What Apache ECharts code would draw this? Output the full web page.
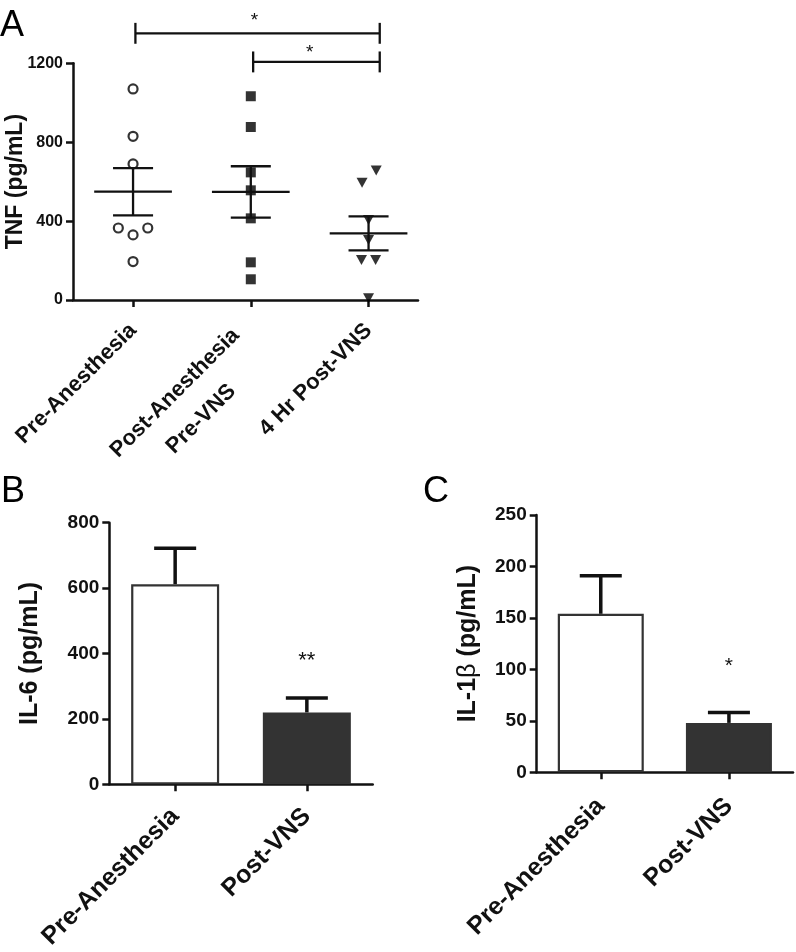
<!DOCTYPE html>
<html><head><meta charset="utf-8">
<script src="https://cdn.jsdelivr.net/npm/echarts@6/dist/echarts.min.js"></script>
<style>html,body{margin:0;padding:0;background:#fff;} #c{width:796px;height:952px;}</style>
</head><body><div id="c"></div>
<script>
// ---------- Panel A : TNF ----------
const groupsA = ['Pre-Anesthesia', 'Post-Anesthesia\nPre-VNS', '4 Hr Post-VNS'];
const tnfPreAnesthesia = [1070, 830, 690, 365, 330, 365, 195];
const tnfPostAnesthesiaPreVNS = [1033, 877, 647, 556, 414, 191, 105];
const tnf4HrPostVNS = [656, 595, 406, 304, 203, 203, 9];
const tnfMean = [549, 548, 338];
const tnfSEM = [120, 130, 86];
const tnfTicks = [0, 400, 800, 1200];
const sigA = [{ from: 1, to: 3, label: '*' }, { from: 2, to: 3, label: '*' }];

// ---------- Panel B : IL-6 ----------
const groupsBC = ['Pre-Anesthesia', 'Post-VNS'];
const il6Mean = [612, 220];
const il6SEM = [110, 44];
const il6Ticks = [0, 200, 400, 600, 800];
const sigB = ['', '**'];

// ---------- Panel C : IL-1beta ----------
const il1bMean = [154, 48];
const il1bSEM = [37, 10];
const il1bTicks = [0, 50, 100, 150, 200, 250];
const sigC = ['', '*'];

// ---------- layout (not data) ----------
const FONT = "'Liberation Sans', Arial, Helvetica, sans-serif";
const jitterA = [[0, 0, 0, -0.125, 0, 0.125, 0], [0, 0, 0, 0, 0, 0, 0], [0.065, -0.055, 0, 0, -0.06, 0.06, 0]];
const bracketLayout = [
  { y: 1352, half: 53, starY: 1418, dx1: 0.02, dx2: 0.095, starX: 2.03 },
  { y: 1207, half: 53, starY: 1254, dx1: 0.02, dx2: 0.095, starX: 2.5 }
];
const sigLayoutB = [0, 378];
const sigLayoutC = [0, 103];

const AX = '#111';

function pts(vals, g) {
  return vals.map((v, i) => [g + 1 + jitterA[g][i], v]);
}

function meanSemItem(params, api) {
  const x = api.value(0), m = api.value(1), s = api.value(2);
  const unit = api.size([1, 0])[0];
  const c = api.coord([x, m]), hi = api.coord([x, m + s]), lo = api.coord([x, m - s]);
  const mw = unit * 0.33, cw = unit * 0.17;
  const st = { stroke: AX, lineWidth: 2.3 };
  return { type: 'group', children: [
    { type: 'line', shape: { x1: c[0] - mw, y1: c[1], x2: c[0] + mw, y2: c[1] }, style: st },
    { type: 'line', shape: { x1: c[0], y1: hi[1], x2: c[0], y2: lo[1] }, style: st },
    { type: 'line', shape: { x1: c[0] - cw, y1: hi[1], x2: c[0] + cw, y2: hi[1] }, style: st },
    { type: 'line', shape: { x1: c[0] - cw, y1: lo[1], x2: c[0] + cw, y2: lo[1] }, style: st }
  ]};
}

function bracketItem(params, api) {
  const i = params.dataIndex;
  const L = bracketLayout[i];
  const from = api.value(0), to = api.value(1);
  const a = api.coord([from + L.dx1, L.y]), b = api.coord([to + L.dx2, L.y]);
  const t = api.coord([from, L.y + L.half])[1], bt = api.coord([from, L.y - L.half])[1];
  const s = api.coord([L.starX, L.starY]);
  const st = { stroke: AX, lineWidth: 2.3 };
  return { type: 'group', children: [
    { type: 'line', shape: { x1: a[0], y1: a[1], x2: b[0], y2: b[1] }, style: st },
    { type: 'line', shape: { x1: a[0], y1: t, x2: a[0], y2: bt }, style: st },
    { type: 'line', shape: { x1: b[0], y1: t, x2: b[0], y2: bt }, style: st },
    { type: 'text', style: { text: sigA[i].label, x: s[0], y: s[1], align: 'center', verticalAlign: 'middle', font: '19px ' + FONT, fill: AX } }
  ]};
}

function errItem(capHalf, sigs, sigY, sigFont) {
  return function (params, api) {
    const i = api.value(0), m = api.value(1), e = api.value(2);
    const base = api.coord([i, m]), top = api.coord([i, m + e]);
    const st = { stroke: AX, lineWidth: 3.5 };
    const ch = [
      { type: 'line', shape: { x1: base[0], y1: base[1], x2: top[0], y2: top[1] }, style: st },
      { type: 'line', shape: { x1: top[0] - capHalf, y1: top[1], x2: top[0] + capHalf, y2: top[1] }, style: st }
    ];
    if (sigs[i]) {
      const p = api.coord([i, sigY[i]]);
      ch.push({ type: 'text', style: { text: sigs[i], x: p[0], y: p[1], align: 'center', verticalAlign: 'middle', font: sigFont + ' ' + FONT, fill: AX } });
    }
    return { type: 'group', children: ch };
  };
}

function yAxisCfg(grid, ticks, name, gap, labelSize, nameSize, rich) {
  return {
    type: 'value', gridIndex: grid, min: ticks[0], max: ticks[ticks.length - 1],
    interval: ticks[1] - ticks[0],
    axisLine: { show: true, lineStyle: { color: AX, width: 2.5 } },
    axisTick: { show: true, inside: false, length: 7, lineStyle: { color: AX, width: 2.5 } },
    axisLabel: { color: AX, fontFamily: FONT, fontWeight: 'bold', fontSize: labelSize, margin: 10,
      formatter: function (v) { return String(v); } },
    splitLine: { show: false },
    name: name, nameLocation: 'middle', nameGap: gap, nameRotate: 90, nameMoveOverlap: false,
    nameTextStyle: { color: AX, fontFamily: FONT, fontWeight: 'bold', fontSize: nameSize, rich: rich || {} }
  };
}

function catAxis(grid, cats, size, margin) {
  return {
    type: 'category', gridIndex: grid, data: cats,
    axisLine: { show: true, lineStyle: { color: AX, width: 2.5 } },
    axisTick: { show: true, alignWithLabel: true, length: 7, lineStyle: { color: AX, width: 2.5 } },
    axisLabel: { rotate: 45, color: AX, fontFamily: FONT, fontWeight: 'bold', fontSize: size, margin: margin, interval: 0 },
    splitLine: { show: false }
  };
}

const chart = echarts.init(document.getElementById('c'), null, { renderer: 'canvas' });
chart.setOption({
  animation: false,
  backgroundColor: '#fff',
  grid: [
    { left: 73, top: 63.3, width: 345, height: 236.7 },
    { left: 109.3, top: 522.7, width: 263.4, height: 262.3 },
    { left: 536.7, top: 515, width: 256.3, height: 257.3 }
  ],
  xAxis: [
    {
      type: 'value', gridIndex: 0, min: 0.49, max: 3.42,
      axisLine: { show: true, lineStyle: { color: AX, width: 2.5 } },
      axisTick: { show: true, customValues: [1, 2, 3], length: 7, lineStyle: { color: AX, width: 2.5 } },
      axisLabel: {
        customValues: [1, 2, 3], rotate: 45, margin: 27,
        formatter: function (v) {
          const parts = (groupsA[Math.round(v) - 1] || '').split('\n');
          if (parts.length === 1) return '{c|' + parts[0] + '}';
          return '{sp| }\n' + parts.map(s => '{m|' + s + '}').join('\n');
        },
        rich: {
          c: { fontSize: 22, fontWeight: 'bold', fontFamily: FONT, color: AX, lineHeight: 26 },
          m: { align: 'center', fontSize: 22, fontWeight: 'bold', fontFamily: FONT, color: AX, lineHeight: 37, padding: [0, 14, 0, 0] },
          sp: { fontSize: 1, lineHeight: 23 }
        }
      },
      splitLine: { show: false }
    },
    catAxis(1, groupsBC, 25, 28),
    catAxis(2, groupsBC, 25, 30)
  ],
  yAxis: [
    yAxisCfg(0, tnfTicks, 'TNF (pg/mL)', 46, 16, 23),
    yAxisCfg(1, il6Ticks, 'IL-6 (pg/mL)', 67, 19, 25),
    yAxisCfg(2, il1bTicks, 'IL-1{b|β} (pg/mL)', 56, 19, 25,
      { b: { fontFamily: FONT, fontWeight: 'normal', fontSize: 25, color: AX } })
  ],
  series: [
    { type: 'scatter', xAxisIndex: 0, yAxisIndex: 0, data: pts(tnfPreAnesthesia, 0),
      symbol: 'circle', symbolSize: 9, itemStyle: { color: '#fff', borderColor: '#000', borderWidth: 2.2 }, z: 3 },
    { type: 'scatter', xAxisIndex: 0, yAxisIndex: 0, data: pts(tnfPostAnesthesiaPreVNS, 1),
      symbol: 'rect', symbolSize: 10, itemStyle: { color: '#000' }, z: 3 },
    { type: 'scatter', xAxisIndex: 0, yAxisIndex: 0, data: pts(tnf4HrPostVNS, 2),
      symbol: 'triangle', symbolRotate: 180, symbolSize: [11, 10], itemStyle: { color: '#000' }, z: 3 },
    { type: 'custom', xAxisIndex: 0, yAxisIndex: 0, renderItem: meanSemItem, z: 4,
      data: tnfMean.map((m, i) => [i + 1, m, tnfSEM[i]]) },
    { type: 'custom', xAxisIndex: 0, yAxisIndex: 0, renderItem: bracketItem, clip: false, z: 4,
      data: sigA.map(s => [s.from, s.to]) },

    { type: 'bar', xAxisIndex: 1, yAxisIndex: 1, barWidth: 88,
      data: il6Mean.map((v, i) => ({ value: v, itemStyle: { color: i === 0 ? '#fff' : '#333', borderColor: '#333', borderWidth: 2.2 } })) },
    { type: 'custom', xAxisIndex: 1, yAxisIndex: 1, renderItem: errItem(21, sigB, sigLayoutB, '22px'), clip: false, z: 4,
      data: il6Mean.map((m, i) => [i, m, il6SEM[i]]) },

    { type: 'bar', xAxisIndex: 2, yAxisIndex: 2, barWidth: 86,
      data: il1bMean.map((v, i) => ({ value: v, itemStyle: { color: i === 0 ? '#fff' : '#333', borderColor: '#333', borderWidth: 2.2 } })) },
    { type: 'custom', xAxisIndex: 2, yAxisIndex: 2, renderItem: errItem(21, sigC, sigLayoutC, '21px'), clip: false, z: 4,
      data: il1bMean.map((m, i) => [i, m, il1bSEM[i]]) }
  ],
  graphic: [
    { type: 'text', left: 0, top: 8, style: { text: 'A', font: '36px ' + FONT, fill: '#000' } },
    { type: 'text', left: 1, top: 474, style: { text: 'B', font: '36px ' + FONT, fill: '#000' } },
    { type: 'text', left: 423, top: 474, style: { text: 'C', font: '36px ' + FONT, fill: '#000' } }
  ]
});
</script>
</body></html>
